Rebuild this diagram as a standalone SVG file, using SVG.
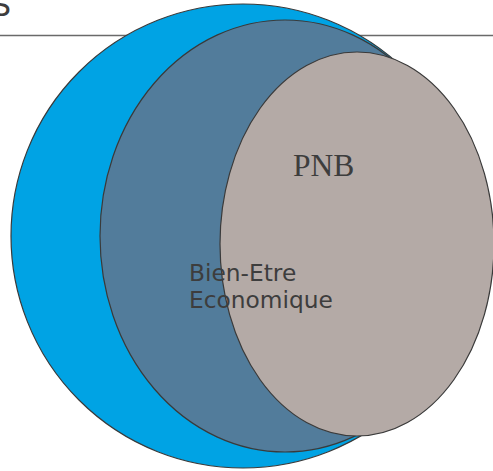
<svg xmlns="http://www.w3.org/2000/svg" width="493" height="471" viewBox="0 0 493 471">
<style>
.c{stroke:#3a3a3a;stroke-width:1.2}
.t{fill:#3d3d3d}
</style>
<rect width="493" height="471" fill="#ffffff"/>
<text class="t" x="-8" y="16" font-family="DejaVu Sans, sans-serif" font-size="30">S</text>
<line x1="0" y1="35.5" x2="493" y2="35.5" stroke="#6a6a6a" stroke-width="1.3"/>
<g id="outer"><ellipse class="c" cx="243" cy="236" rx="232" ry="232" fill="#00A3E4"/></g>
<g id="bien-etre"><ellipse class="c" cx="285" cy="236" rx="185" ry="216" fill="#527C9B"/></g>
<g id="pnb"><ellipse class="c" cx="357" cy="244" rx="137" ry="192" fill="#B4AAA6"/>
<text class="t" x="293" y="176" font-family="Liberation Serif, serif" font-size="31.5">PNB</text></g>
<g id="label"><text class="t" font-family="DejaVu Sans, sans-serif" font-size="23.3"><tspan x="189" y="281">Bien-Etre</tspan><tspan x="189" y="308">Economique</tspan></text></g>
</svg>
